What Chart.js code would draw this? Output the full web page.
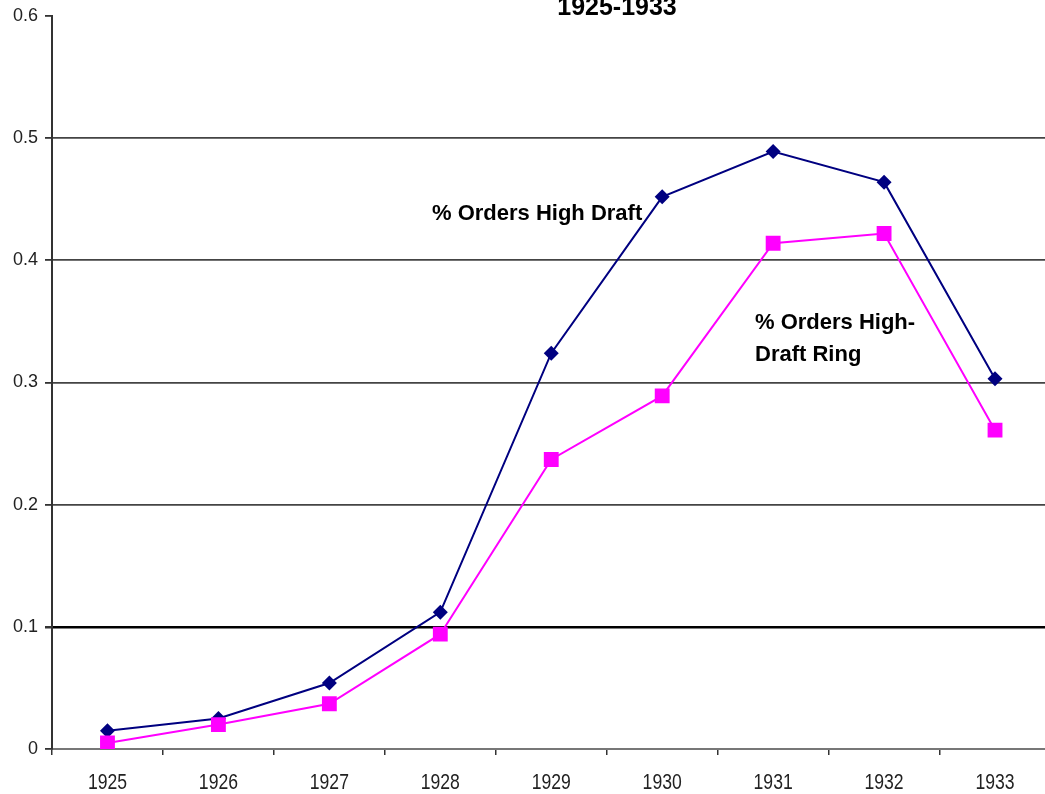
<!DOCTYPE html>
<html>
<head>
<meta charset="utf-8">
<script src="https://cdn.jsdelivr.net/npm/chart.js@4/dist/chart.umd.min.js"></script>
<style>
  html, body { margin: 0; padding: 0; background: #fff; overflow: hidden; }
  #wrap { position: relative; width: 1061px; height: 794px; }
</style>
</head>
<body>
<div id="wrap"><canvas id="c" width="1061" height="794"></canvas></div>
<script>
// Share of orders, 1925-1933
const years = ['1925', '1926', '1927', '1928', '1929', '1930', '1931', '1932', '1933'];
const highDraft = [0.015, 0.025, 0.054, 0.112, 0.324, 0.452, 0.489, 0.464, 0.303];
const highDraftRing = [0.005, 0.020, 0.037, 0.094, 0.237, 0.289, 0.414, 0.422, 0.261];
const titleText = '1925-1933';
const labelHighDraft = '% Orders High Draft';
const labelRing = ['% Orders High-', 'Draft Ring'];

const NAVY = '#000080';
const PINK = '#FF00FF';
const FONT = '"Liberation Sans", Arial, sans-serif';

// Title, in-plot series labels and condensed year labels
const textPlugin = {
  id: 'textLabels',
  afterDraw(chart) {
    const ctx = chart.ctx;
    ctx.save();
    ctx.fillStyle = '#000';
    ctx.textBaseline = 'alphabetic';
    ctx.font = 'bold 25px ' + FONT;
    ctx.textAlign = 'center';
    ctx.fillText(titleText, 617, 15);

    ctx.font = 'bold 22px ' + FONT;
    ctx.textAlign = 'left';
    ctx.fillText(labelHighDraft, 432, 220);
    ctx.fillText(labelRing[0], 755, 329);
    ctx.fillText(labelRing[1], 755, 361);

    // year labels, horizontally condensed
    const xs = chart.scales.x;
    ctx.fillStyle = '#222';
    ctx.font = '22px ' + FONT;
    ctx.textAlign = 'center';
    xs.ticks.forEach((t, i) => {
      const px = xs.getPixelForTick(i);
      ctx.save();
      ctx.translate(px, 789);
      ctx.scale(0.8, 1);
      ctx.fillText(xs.getLabelForValue(t.value), 0, 0);
      ctx.restore();
    });
    ctx.restore();
  }
};

new Chart(document.getElementById('c'), {
  type: 'line',
  data: {
    labels: years,
    datasets: [
      {
        label: labelHighDraft,
        data: highDraft,
        borderColor: NAVY,
        backgroundColor: NAVY,
        borderWidth: 2,
        pointStyle: 'rectRot',
        pointRadius: 7.5,
        pointBorderWidth: 0,
        tension: 0,
        order: 1
      },
      {
        label: labelRing.join(''),
        data: highDraftRing,
        borderColor: PINK,
        backgroundColor: PINK,
        borderWidth: 2,
        pointStyle: 'rect',
        pointRadius: 10.5,
        pointBorderWidth: 0,
        tension: 0,
        order: 0
      }
    ]
  },
  options: {
    responsive: false,
    animation: false,
    devicePixelRatio: 1,
    layout: { padding: { left: 0, right: 0, top: 16, bottom: 0 } },
    plugins: {
      legend: { display: false },
      title: { display: false },
      tooltip: { enabled: false }
    },
    scales: {
      x: {
        type: 'category',
        offset: true,
        grid: {
          offset: true,
          drawOnChartArea: false,
          drawTicks: true,
          tickLength: 6,
          tickColor: '#333',
          lineWidth: 1.5
        },
        border: { display: true, color: '#777', width: 2 },
        ticks: {
          color: 'rgba(0,0,0,0)',
          font: { family: FONT, size: 16 },
          padding: 10,
          maxRotation: 0,
          autoSkip: false
        },
        afterFit(axis) { axis.height = 45; }
      },
      y: {
        min: 0,
        max: 0.6,
        ticks: {
          stepSize: 0.1,
          color: '#222',
          font: { family: FONT, size: 18 },
          padding: 7,
          callback: (v) => String(Math.round(v * 10) / 10)
        },
        grid: {
          drawTicks: true,
          tickLength: 7,
          tickColor: '#333',
          color: (c) => {
            const v = Math.round((c.tick ? c.tick.value : 0) * 10) / 10;
            if (v === 0 || v === 0.6) return 'rgba(0,0,0,0)';
            return v === 0.1 ? '#000' : '#444';
          },
          lineWidth: (c) => {
            const v = Math.round((c.tick ? c.tick.value : 0) * 10) / 10;
            return v === 0.1 ? 2.5 : 1.8;
          }
        },
        border: { display: true, color: '#333', width: 2 },
        afterFit(axis) {
          axis.width = 52;
          axis.paddingTop = 0;
          axis.paddingBottom = 0;
        }
      }
    }
  },
  plugins: [textPlugin]
});
</script>
</body>
</html>
